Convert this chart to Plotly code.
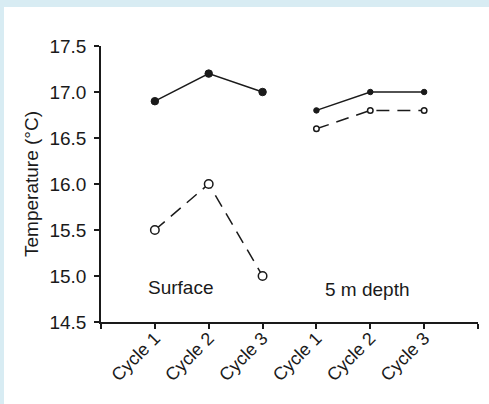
import plotly.graph_objects as go

cycles = ["Cycle 1", "Cycle 2", "Cycle 3"]
surface_x = [1, 2, 3]
depth_x = [4, 5, 6]
surface_solid = [16.9, 17.2, 17.0]
surface_open = [15.5, 16.0, 15.0]
depth_solid = [16.8, 17.0, 17.0]
depth_open = [16.6, 16.8, 16.8]
y_ticks = [14.5, 15.0, 15.5, 16.0, 16.5, 17.0, 17.5]
x_tick_vals = [0, 1, 2, 3, 4, 5, 6, 7]
x_tick_text = [""] + cycles + cycles + [""]

INK = "#1a1a1a"
FONT = "Liberation Sans, Arial, sans-serif"
FS = 19

fig = go.Figure()

def add(xs, ys, filled, size, dash):
    fig.add_trace(go.Scatter(
        x=xs, y=ys, mode="lines+markers",
        line=dict(color=INK, width=1.5, dash=dash),
        marker=dict(size=size, color=INK if filled else "white",
                    line=dict(color=INK, width=1.5 if not filled else 1), symbol="circle"),
        showlegend=False, cliponaxis=False,
    ))

add(surface_x, surface_solid, True, 7.5, "solid")
add(surface_x, surface_open, False, 8.5, "13px,8px")
add(depth_x, depth_solid, True, 5.5, "solid")
add(depth_x, depth_open, False, 5.5, "13px,8px")

fig.add_annotation(x=0.83, y=14.88, text="Surface", showarrow=False,
                   xanchor="left", yanchor="middle",
                   font=dict(size=FS, color=INK, family=FONT))
fig.add_annotation(x=4.12, y=14.85, text="5 m depth", showarrow=False,
                   xanchor="left", yanchor="middle",
                   font=dict(size=FS, color=INK, family=FONT))

L, R, T, B = 101, 11, 46, 82
W, H = 489, 404
pw, ph = W - L - R, H - T - B

# white panel over the light blue page, leaving a thin strip left and top
fig.add_shape(type="rect", xref="paper", yref="paper",
              x0=(4 - L) / pw, x1=(W + 5 - L) / pw,
              y0=(H - B - (H + 5)) / ph, y1=(H - B - 7) / ph,
              fillcolor="white", line=dict(width=0), layer="below")

fig.update_layout(
    width=W, height=H,
    margin=dict(l=L, r=R, t=T, b=B, autoexpand=False),
    paper_bgcolor="#d8ecf3", plot_bgcolor="white",
    font=dict(family=FONT, size=FS, color=INK),
)
fig.update_xaxes(
    range=[0, 7], tickmode="array", tickvals=x_tick_vals, ticktext=x_tick_text,
    tickangle=-45, ticks="outside", ticklen=5, tickwidth=1.5, tickcolor=INK,
    showline=True, linecolor=INK, linewidth=1.5, showgrid=False, zeroline=False,
    tickfont=dict(size=18, color=INK), ticklabelstandoff=-8, automargin=False,
)
fig.update_yaxes(
    range=[14.5, 17.5], tickmode="array", tickvals=y_ticks,
    ticktext=[f"{v:.1f}" for v in y_ticks],
    ticks="outside", ticklen=5, tickwidth=1.5, tickcolor=INK,
    showline=True, linecolor=INK, linewidth=1.5, showgrid=False, zeroline=False,
    tickfont=dict(size=FS, color=INK), ticklabelstandoff=4,
    title=dict(text="Temperature (°C)", font=dict(size=FS, color=INK), standoff=6),
    automargin=False,
)

fig.write_html("out.html")
